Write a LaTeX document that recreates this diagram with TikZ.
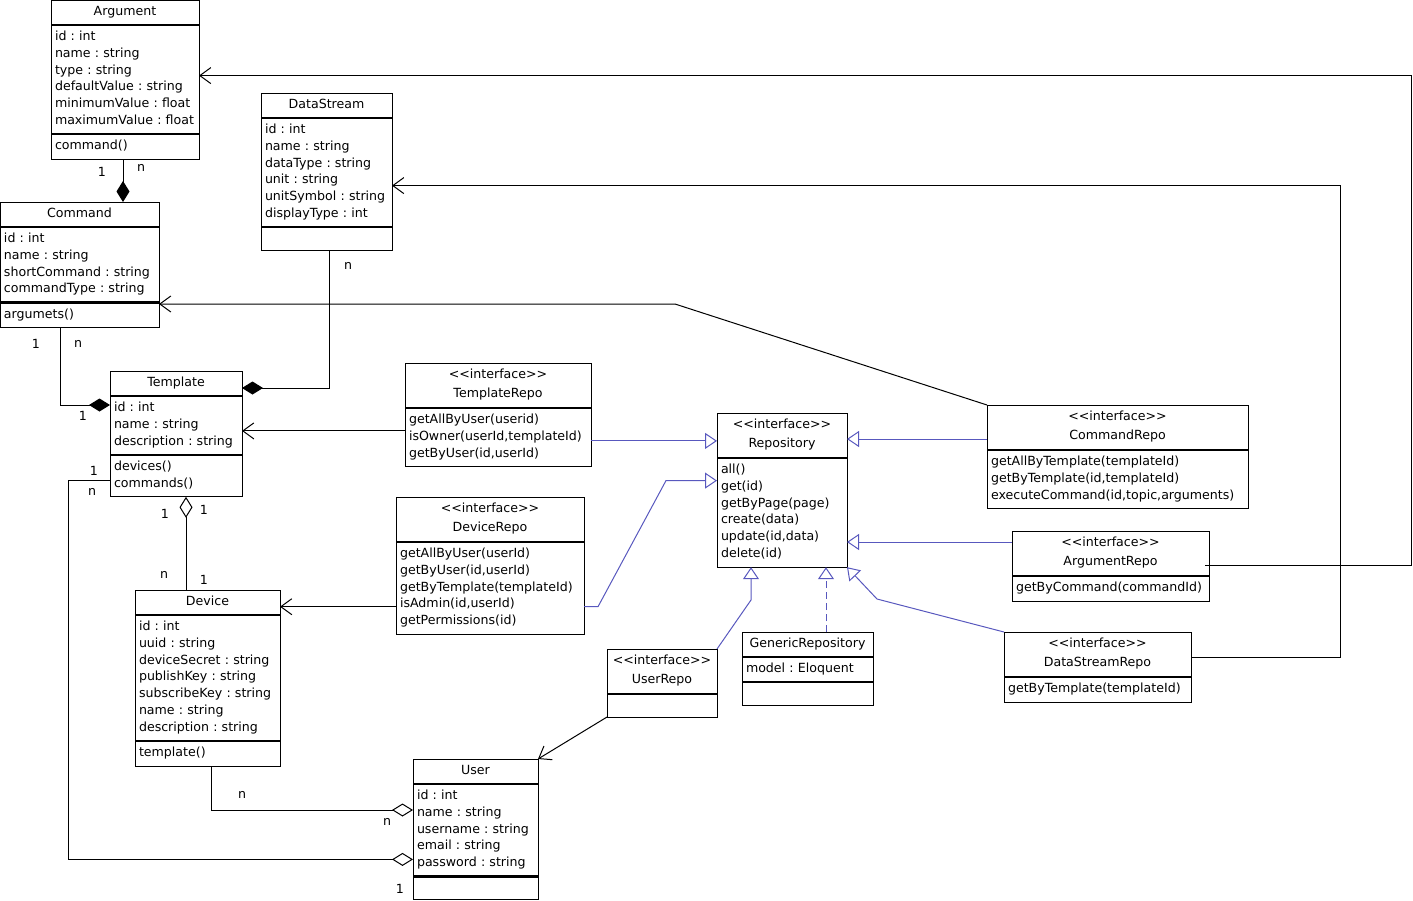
\documentclass[tikz,border=0pt]{standalone}
\usepackage{fontspec}
\setmainfont{DejaVu Sans}
\usepackage{tikz}
\usetikzlibrary{arrows.meta,positioning}
\definecolor{umlblue}{RGB}{88,88,190}
\newcommand{\umlfont}{\fontsize{12.6}{16.8}\selectfont\frenchspacing}
\newcommand{\ifacefont}{\fontsize{12.6}{19}\selectfont\frenchspacing}
\newcommand{\iface}{<{}<interface>{}>}
\tikzset{
  clshead/.style={draw, fill=white, outer sep=0pt, text width=#1, align=center, inner xsep=4pt, inner ysep=4pt, text height=11.5pt, text depth=5.5pt, font=\umlfont},
  ifchead/.style={clshead=#1, text depth=25.5pt, font=\ifacefont},
  clspart/.style 2 args={draw, fill=white, outer sep=0pt, text width=#1, align=left, inner xsep=4pt, inner ysep=4pt, text height=11.5pt,
    /utils/exec={\pgfmathsetlengthmacro\partdepth{16.8*#2-11.1}}, text depth=\partdepth, font=\umlfont},
  emptypart/.style={clspart={#1}{0.87}},
  splitline/.style={line width=2.4pt},
  mult/.style={font=\umlfont, inner sep=0pt},
  assoc/.style={-{Straight Barb[length=11pt, width=16pt]}},
  comp/.style={-{Diamond[length=21pt, width=13pt]}},
  aggr/.style={-{Diamond[open, length=21pt, width=13pt]}},
  inherit/.style={-{Triangle[open, length=12pt, width=16pt]}, umlblue},
  realize/.style={inherit, dash pattern=on 7pt off 4pt}
}

\begin{document}
\begin{tikzpicture}[x=1pt, y=-1pt, line width=1pt]
  \useasboundingbox (0,0) rectangle (1413,900);

  % model classes
  \node[clshead=140pt, anchor=north west] (arg) at (51,0) {Argument};
  \node[clspart={140pt}{6}, below=0pt of arg] (arg-attr) {id : int\\name : string\\type : string\\defaultValue : string\\minimumValue : float\\maximumValue : float};
  \node[clspart={140pt}{1}, below=0pt of arg-attr] (arg-meth) {command()};

  \node[clshead=151pt, anchor=north west] (cmd) at (0,202) {Command};
  \node[clspart={151pt}{4}, below=0pt of cmd] (cmd-attr) {id : int\\name : string\\shortCommand : string\\commandType : string};
  \node[clspart={151pt}{1}, below=0pt of cmd-attr] (cmd-meth) {argumets()};

  \node[clshead=123pt, anchor=north west] (ds) at (261,93) {DataStream};
  \node[clspart={123pt}{6}, below=0pt of ds] (ds-attr) {id : int\\name : string\\dataType : string\\unit : string\\unitSymbol : string\\displayType : int};
  \node[emptypart=123pt, below=0pt of ds-attr] (ds-meth) {};

  \node[clshead=124pt, anchor=north west] (tpl) at (110,371) {Template};
  \node[clspart={124pt}{3}, below=0pt of tpl] (tpl-attr) {id : int\\name : string\\description : string};
  \node[clspart={124pt}{2}, below=0pt of tpl-attr] (tpl-meth) {devices()\\commands()};

  \node[clshead=137pt, anchor=north west] (dev) at (135,590) {Device};
  \node[clspart={137pt}{7}, below=0pt of dev] (dev-attr) {id : int\\uuid : string\\deviceSecret : string\\publishKey : string\\subscribeKey : string\\name : string\\description : string};
  \node[clspart={137pt}{1}, below=0pt of dev-attr] (dev-meth) {template()};

  \node[clshead=117pt, anchor=north west] (usr) at (413,759) {User};
  \node[clspart={117pt}{5}, below=0pt of usr] (usr-attr) {id : int\\name : string\\username : string\\email : string\\password : string};
  \node[emptypart=117pt, below=0pt of usr-attr] (usr-meth) {};

  % repositories
  \node[ifchead=178pt, anchor=north west] (trp) at (405,363) {\iface\\TemplateRepo};
  \node[clspart={178pt}{3}, below=0pt of trp] (trp-meth) {getAllByUser(userid)\\isOwner(userId,templateId)\\getByUser(id,userId)};

  \node[ifchead=180pt, anchor=north west] (drp) at (396,497) {\iface\\DeviceRepo};
  \node[clspart={180pt}{5}, below=0pt of drp] (drp-meth) {getAllByUser(userId)\\getByUser(id,userId)\\getByTemplate(templateId)\\isAdmin(id,userId)\\getPermissions(id)};

  \node[ifchead=122pt, anchor=north west] (rep) at (717,413) {\iface\\Repository};
  \node[clspart={122pt}{6}, below=0pt of rep] (rep-meth) {all()\\get(id)\\getByPage(page)\\create(data)\\update(id,data)\\delete(id)};

  \node[ifchead=253pt, anchor=north west] (crp) at (987,405) {\iface\\CommandRepo};
  \node[clspart={253pt}{3}, below=0pt of crp] (crp-meth) {getAllByTemplate(templateId)\\getByTemplate(id,templateId)\\executeCommand(id,topic,arguments)};

  \node[ifchead=189pt, anchor=north west] (arp) at (1012,531) {\iface\\ArgumentRepo};
  \node[clspart={189pt}{1}, below=0pt of arp] (arp-meth) {getByCommand(commandId)};

  \node[ifchead=179pt, anchor=north west] (dsr) at (1004,632) {\iface\\DataStreamRepo};
  \node[clspart={179pt}{1}, below=0pt of dsr] (dsr-meth) {getByTemplate(templateId)};

  \node[ifchead=102pt, anchor=north west] (urp) at (607,649) {\iface\\UserRepo};
  \node[emptypart=102pt, below=0pt of urp] (urp-meth) {};

  \node[clshead=123pt, anchor=north west] (gen) at (742,632) {GenericRepository};
  \node[clspart={123pt}{1}, below=0pt of gen] (gen-attr) {model : Eloquent};
  \node[emptypart=123pt, below=0pt of gen-attr] (gen-meth) {};

  \foreach \p in {arg-attr, arg-meth, cmd-attr, cmd-meth, ds-attr, ds-meth, tpl-attr, tpl-meth, dev-attr, dev-meth, usr-attr, usr-meth, trp-meth, drp-meth, rep-meth, crp-meth, arp-meth, dsr-meth, urp-meth, gen-attr, gen-meth}
    \draw[splitline] (\p.north west) -- (\p.north east);

  % compositions and aggregations
  \draw[comp] ([xshift=-2pt]arg-meth.south) -- ([xshift=-2pt]arg-meth.south |- cmd.north)
    node[mult, at start, xshift=-21pt, yshift=-13pt] {1}
    node[mult, at start, xshift=18pt, yshift=-9pt] {n};
  \draw[comp] ([xshift=-19.5pt]cmd-meth.south) |- ([yshift=-9pt]tpl-attr.north west)
    node[mult, at start, xshift=-24pt, yshift=-16pt] {1}
    node[mult, at start, xshift=18pt, yshift=-16pt] {n}
    node[mult, at end, xshift=-27pt, yshift=-11pt] {1};
  \draw[comp] ([xshift=2.5pt]ds-meth.south) |- ([yshift=-17pt]tpl.north east)
    node[mult, at start, xshift=19pt, yshift=-16pt] {n};
  \draw[aggr] ([xshift=-21.5pt]dev.north) -- ([xshift=-21.5pt]dev.north |- tpl-meth.south)
    node[mult, at end, xshift=-21pt, yshift=-17pt] {1}
    node[mult, at end, xshift=18pt, yshift=-13pt] {1}
    node[mult, at start, xshift=-22pt, yshift=15pt] {n}
    node[mult, at start, xshift=18pt, yshift=10pt] {1};
  \draw[aggr] ([yshift=-5pt]tpl-meth.west)
    -- node[mult, at start, xshift=-16pt, yshift=10pt] {1}
       node[mult, at start, xshift=-18pt, yshift=-11pt] {n} ++(-42,0)
    |- ([yshift=17pt]usr-attr.south west)
    node[mult, at end, xshift=-13pt, yshift=-29pt] {1};
  \draw[aggr] ([xshift=3.5pt]dev-meth.south) |- ([yshift=-26pt]usr-attr.north west)
    node[mult, at start, xshift=31pt, yshift=-29pt] {n}
    node[mult, at end, xshift=-26pt, yshift=-12pt] {n};

  % repository dependencies
  \coordinate (crp-bend) at (675,304);
  \draw[assoc] ([yshift=6.5pt]trp-meth.west) -- ([yshift=6.5pt]trp-meth.west -| tpl-attr.east);
  \draw[assoc] ([yshift=-18.5pt]drp-meth.west) -- ([yshift=-18.5pt]drp-meth.west -| dev.east);
  \draw[assoc] (crp.north west) -- (crp-bend) -- (crp-bend -| cmd-meth.east);
  \draw[assoc] ([xshift=-4pt, yshift=11pt]arp.south east) -- ++(206,0) |- ([yshift=4pt]arg-attr.east);
  \draw[assoc] ([yshift=-2.5pt]dsr.east) -- ++(149,0) |- ([yshift=-13pt]ds-attr.east);
  \draw[assoc] (urp-meth.south west) -- (usr.north east);

  % generalizations
  \draw[inherit] ([yshift=-3.5pt]trp-meth.east) -- ([yshift=-3.5pt]trp-meth.east -| rep.west);
  \draw[inherit] ([yshift=-18.5pt]drp-meth.east) -- ++(14,0) -- ([xshift=-51pt, yshift=32pt]rep-meth.west) -- ([yshift=32pt]rep-meth.west);
  \draw[inherit] ([yshift=-11.5pt]crp.west) -- ([yshift=-11.5pt]crp.west -| rep.east);
  \draw[inherit] ([yshift=11.5pt]arp.west) -- ([yshift=11.5pt]arp.west -| rep-meth.east);
  \draw[inherit] (dsr.north west) -- ++(-127,-33) -- (rep-meth.south east);
  \draw[inherit] (urp.north east) -- ++(34,-49) -- ([xshift=-31pt]rep-meth.south);
  \draw[realize] ([xshift=18.5pt]gen.north) -- ([xshift=18.5pt]gen.north |- rep-meth.south);
\end{tikzpicture}
\end{document}
